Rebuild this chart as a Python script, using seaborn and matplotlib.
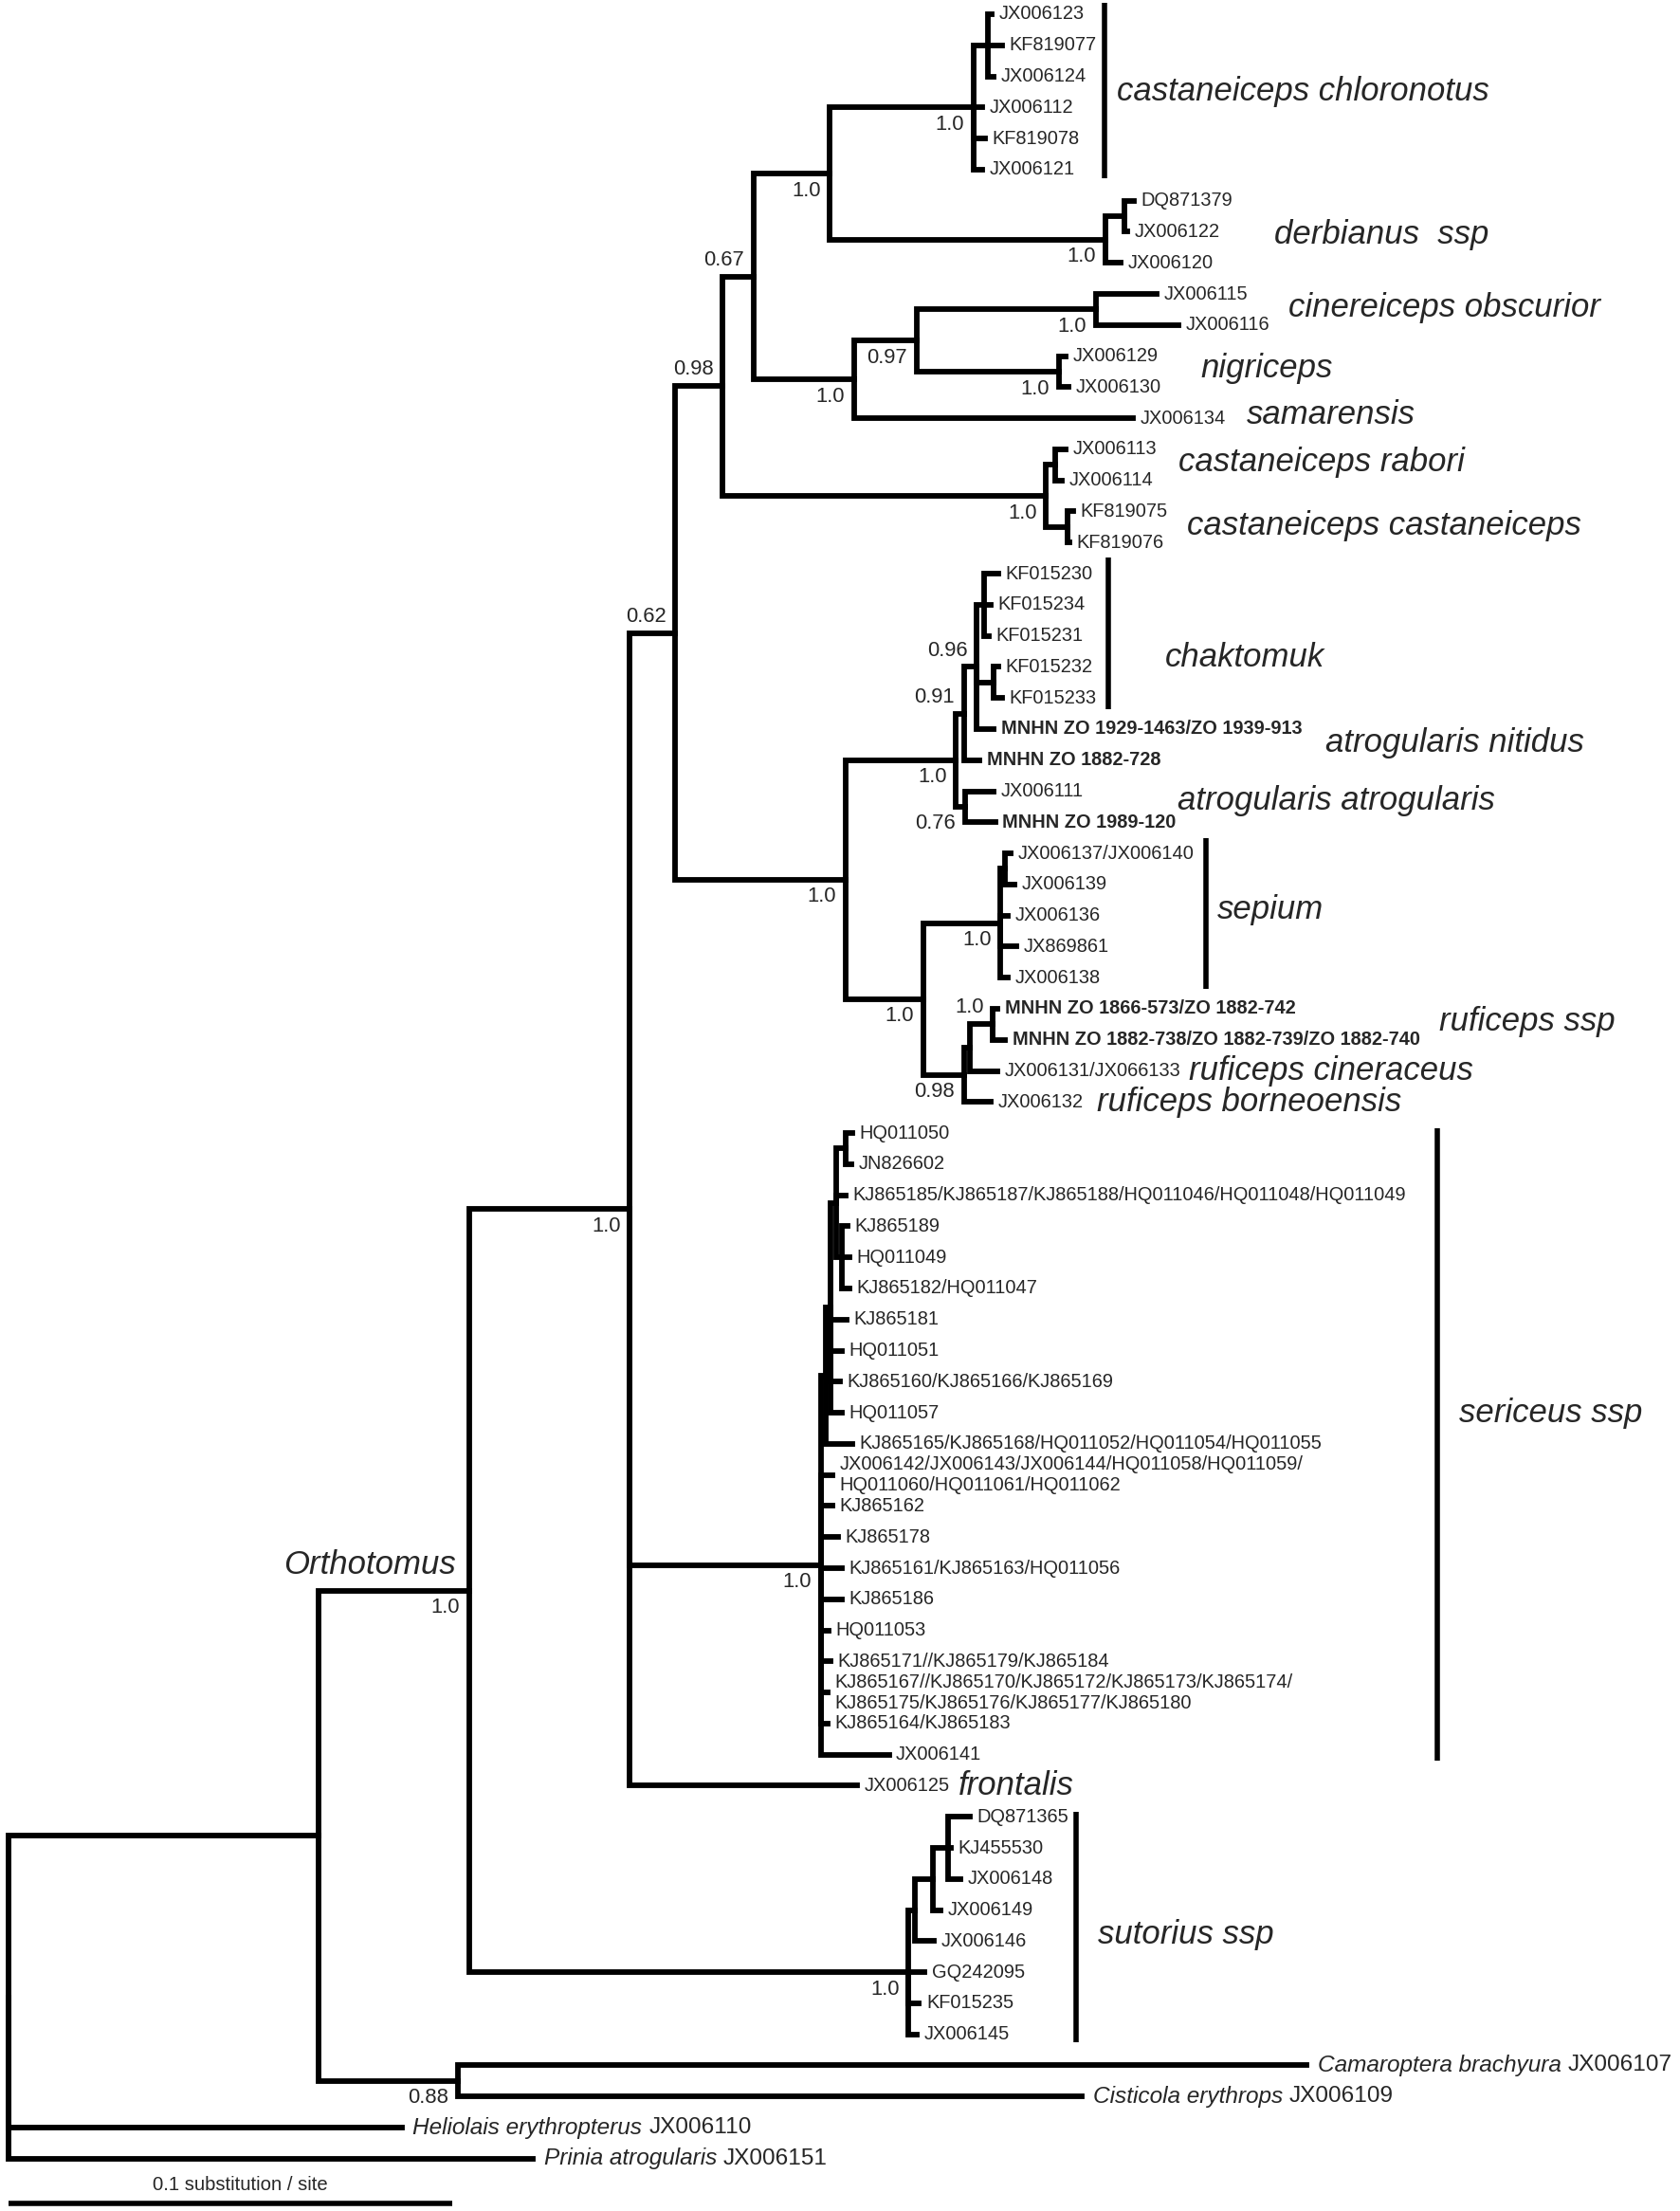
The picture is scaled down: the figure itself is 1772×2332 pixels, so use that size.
#for data handling
import pandas as pd
import numpy as np

#for plotting
import seaborn as sns
import matplotlib.pyplot as plt

# ---------------- data ----------------
# tips from top to bottom, the internal node each one hangs from,
# and the distance from the root (substitutions / site)
tip_labels = [
    "JX006123", "KF819077", "JX006124", "JX006112", "KF819078", "JX006121",
    "DQ871379", "JX006122", "JX006120",
    "JX006115", "JX006116", "JX006129", "JX006130", "JX006134",
    "JX006113", "JX006114", "KF819075", "KF819076",
    "KF015230", "KF015234", "KF015231", "KF015232", "KF015233",
    "MNHN ZO 1929-1463/ZO 1939-913", "MNHN ZO 1882-728",
    "JX006111", "MNHN ZO 1989-120",
    "JX006137/JX006140", "JX006139", "JX006136", "JX869861", "JX006138",
    "MNHN ZO 1866-573/ZO 1882-742", "MNHN ZO 1882-738/ZO 1882-739/ZO 1882-740",
    "JX006131/JX066133", "JX006132",
    "HQ011050", "JN826602", "KJ865185/KJ865187/KJ865188/HQ011046/HQ011048/HQ011049",
    "KJ865189", "HQ011049", "KJ865182/HQ011047", "KJ865181", "HQ011051",
    "KJ865160/KJ865166/KJ865169", "HQ011057",
    "KJ865165/KJ865168/HQ011052/HQ011054/HQ011055",
    "JX006142/JX006143/JX006144/HQ011058/HQ011059/\nHQ011060/HQ011061/HQ011062",
    "KJ865162", "KJ865178", "KJ865161/KJ865163/HQ011056", "KJ865186", "HQ011053",
    "KJ865171//KJ865179/KJ865184",
    "KJ865167//KJ865170/KJ865172/KJ865173/KJ865174/\nKJ865175/KJ865176/KJ865177/KJ865180",
    "KJ865164/KJ865183", "JX006141",
    "JX006125",
    "DQ871365", "KJ455530", "JX006148", "JX006149", "JX006146", "GQ242095",
    "KF015235", "JX006145",
    "Camaroptera brachyura JX006107", "Cisticola erythrops JX006109",
    "Heliolais erythropterus JX006110", "Prinia atrogularis JX006151",
]
tip_parent = [
    "cc1", "cc1", "cc1", "cc", "cc", "cc",
    "dd1", "dd1", "dd",
    "G", "G", "H", "H", "E",
    "J", "J", "K", "K",
    "R", "R", "R", "S", "S",
    "Q", "O",
    "P", "P",
    "U1", "U1", "U", "U", "U",
    "X", "X",
    "W", "V",
    "S4", "S4", "S3",
    "S5", "S5", "S5", "S2", "S2",
    "S2", "S2",
    "S1",
    "Y",
    "Y", "Y", "Y", "Y", "Y",
    "Y",
    "Y",
    "Y", "Y",
    "L",
    "sA", "sA", "sA", "sB", "sC", "sut",
    "sut", "sut",
    "cam", "cam",
    "root", "root",
]
tip_depth = [
    0.2216, 0.2239, 0.2220, 0.2194, 0.2201, 0.2194,
    0.2536, 0.2521, 0.2506,
    0.2587, 0.2637, 0.2382, 0.2389, 0.2535,
    0.2382, 0.2374, 0.2400, 0.2391,
    0.2231, 0.2214, 0.2209, 0.2231, 0.2239,
    0.2220, 0.2189,
    0.2221, 0.2224,
    0.2259, 0.2267, 0.2252, 0.2271, 0.2252,
    0.2229, 0.2246,
    0.2229, 0.2214,
    0.1902, 0.1900, 0.1886,
    0.1891, 0.1895, 0.1895, 0.1889, 0.1878,
    0.1873, 0.1878,
    0.1902,
    0.1856,
    0.1856, 0.1869, 0.1878, 0.1878, 0.1848,
    0.1852,
    0.1846,
    0.1846, 0.1984,
    0.1912,
    0.2166, 0.2124, 0.2145, 0.2100, 0.2085, 0.2064,
    0.2052, 0.2047,
    0.2926, 0.2419,
    0.0886, 0.1181,
]

# internal nodes, their parent and distance from the root
node_ids = ["root", "out", "cam", "orth", "L", "A", "B", "C", "D", "cc", "cc1",
            "dd", "dd1", "E", "F", "G", "H", "I", "J", "K", "M", "N", "O", "Q",
            "R", "S", "P", "T", "U", "U1", "V", "W", "X", "Y", "S1", "S2", "S3",
            "S4", "S5", "sut", "sC", "sB", "sA"]
node_parent = [None, "root", "out", "out", "orth", "L", "A", "B", "C", "D", "cc",
               "D", "dd", "C", "E", "F", "F", "B", "I", "I", "A", "M", "N", "O",
               "Q", "Q", "N", "M", "T", "U", "T", "V", "W", "L", "Y", "S1", "S2",
               "S3", "S3", "orth", "sut", "sC", "sB"]
node_depth = [0.0, 0.0698, 0.1012, 0.1038, 0.1400, 0.1503, 0.1610, 0.1679, 0.1851,
              0.2175, 0.2207, 0.2472, 0.2514, 0.1905, 0.2046, 0.2450, 0.2367,
              0.2338, 0.2359, 0.2387, 0.1886, 0.2135, 0.2153, 0.2182, 0.2199,
              0.2220, 0.2156, 0.2061, 0.2236, 0.2246, 0.2154, 0.2167, 0.2219,
              0.1831, 0.1842, 0.1853, 0.1865, 0.1886, 0.1878, 0.2028, 0.2043,
              0.2083, 0.2118]

# posterior probabilities printed at the nodes (a = above the stem, b = below)
support_node = ["cc", "D", "C", "B", "dd", "G", "F", "H", "E", "I", "A", "Q", "O",
                "N", "P", "M", "U", "T", "X", "V", "Y", "L", "orth", "sut", "cam"]
support_value = ["1.0", "1.0", "0.67", "0.98", "1.0", "1.0", "0.97", "1.0", "1.0",
                 "1.0", "0.62", "0.96", "0.91", "1.0", "0.76", "1.0", "1.0", "1.0",
                 "1.0", "0.98", "1.0", "1.0", "1.0", "1.0", "0.88"]
support_side = ["b", "b", "a", "a", "b", "b", "b", "b", "b", "b", "a", "a", "a",
                "b", "b", "b", "b", "b", "a", "b", "b", "b", "b", "b", "b"]

# taxon names on the right (left edge in px, centre in tip rows)
clade_names = ["castaneiceps chloronotus", "derbianus  ssp", "cinereiceps obscurior",
               "nigriceps", "samarensis", "castaneiceps rabori",
               "castaneiceps castaneiceps", "chaktomuk", "atrogularis nitidus",
               "atrogularis atrogularis", "sepium", "ruficeps ssp",
               "ruficeps cineraceus", "ruficeps borneoensis", "sericeus ssp",
               "frontalis", "sutorius ssp"]
clade_x = [1178, 1344, 1359, 1266, 1315, 1243, 1252, 1229, 1398, 1242, 1284, 1518,
           1254, 1157, 1539, 1011, 1158]
clade_row = [2.5, 7.1, 9.45, 11.4, 12.9, 14.4, 16.45, 20.7, 23.45, 25.3, 28.8, 32.4,
             34.0, 35.0, 45.0, 57.0, 61.8]

# vertical bars next to the grouped tips (x, top, bottom in px)
bar_x = [1165, 1169, 1272, 1516, 1135]
bar_top = [3, 588, 884, 1190, 1911]
bar_bottom = [188, 748, 1043, 1857, 2154]

# ---------------- layout ----------------
PX_PER_UNIT = 4680.0      # 0.1 substitution / site = 468 px
ROW0, ROW_PX = 15.0, 32.78
LW = 4.2


def px2x(px):
    return (px - 9) / PX_PER_UNIT


def px2row(py):
    return (py - ROW0) / ROW_PX


sns.set_style("white")
plt.rcParams['font.family'] = ['Liberation Sans', 'DejaVu Sans']

# build the tree
depth = dict(zip(node_ids, node_depth))
parent = dict(zip(node_ids, node_parent))
for i, (p, d) in enumerate(zip(tip_parent, tip_depth)):
    depth[i] = d
    parent[i] = p
kids = {}
for k, p in parent.items():
    if p is not None:
        kids.setdefault(p, []).append(k)

row = {i: float(i) for i in range(len(tip_labels))}


def place(n):
    # node sits half way between its first and last child
    if n not in row:
        ys = [place(c) for c in kids[n]]
        row[n] = (min(ys) + max(ys)) / 2
    return row[n]


place("root")

# one elbow per branch
segs = []
for k, p in parent.items():
    if p is None:
        continue
    segs += [(str(k), depth[p], row[p]), (str(k), depth[p], row[k]), (str(k), depth[k], row[k])]
seg_df = pd.DataFrame(segs, columns=["seg", "x", "y"])

fig = plt.figure(figsize=(17.72, 23.32), dpi=100)
ax = fig.add_axes([0, 0, 1, 1])

sns.lineplot(data=seg_df, x="x", y="y", units="seg", estimator=None, sort=False,
             color="black", linewidth=LW, solid_capstyle="projecting",
             solid_joinstyle="miter", legend=False, ax=ax)

# tip labels
n_out = 4
for i, lab in enumerate(tip_labels):
    if i >= len(tip_labels) - n_out:
        species, acc = lab.rsplit(" ", 1)
        t = ax.annotate(species, xy=(depth[i], row[i]), xytext=(8.5, 0),
                        textcoords="offset points", va="center", ha="left",
                        fontsize=17.6, style="italic")
        ax.annotate(acc, xy=(1, 0.5), xycoords=t, xytext=(5, 0),
                    textcoords="offset points", va="center", ha="left", fontsize=17.6)
    else:
        ax.annotate(lab, xy=(depth[i], row[i]), xytext=(5.5, 0),
                    textcoords="offset points", va="center", ha="left",
                    fontsize=14.4, linespacing=1.2,
                    fontweight="bold" if lab.startswith("MNHN") else "normal")

# support values
for n, v, s in zip(support_node, support_value, support_side):
    dy = 12.5 if s == "a" else -13
    ax.annotate(v, xy=(depth[n], row[n]), xytext=(-7, dy), textcoords="offset points",
                ha="right", va="center", fontsize=15.8)

# taxon names and bars
for name, x, r in zip(clade_names, clade_x, clade_row):
    ax.text(px2x(x), r, name, ha="left", va="center", fontsize=25, style="italic")
ax.vlines([px2x(x) for x in bar_x], [px2row(y) for y in bar_top],
          [px2row(y) for y in bar_bottom], color="black", linewidth=4.0)

ax.text(px2x(481), px2row(1650), "Orthotomus", ha="right", va="center",
        fontsize=25, style="italic")

# scale bar
ax.hlines(px2row(2324), 0, 0.1, color="black", linewidth=4.0)
ax.text(px2x(253), px2row(2305), "0.1 substitution / site", ha="center",
        va="center", fontsize=14.6)

ax.set_xlim(px2x(0), px2x(1772))
ax.set_ylim(px2row(2332), px2row(0))
ax.axis("off")

fig.savefig("out.png", dpi=100, facecolor="white")
